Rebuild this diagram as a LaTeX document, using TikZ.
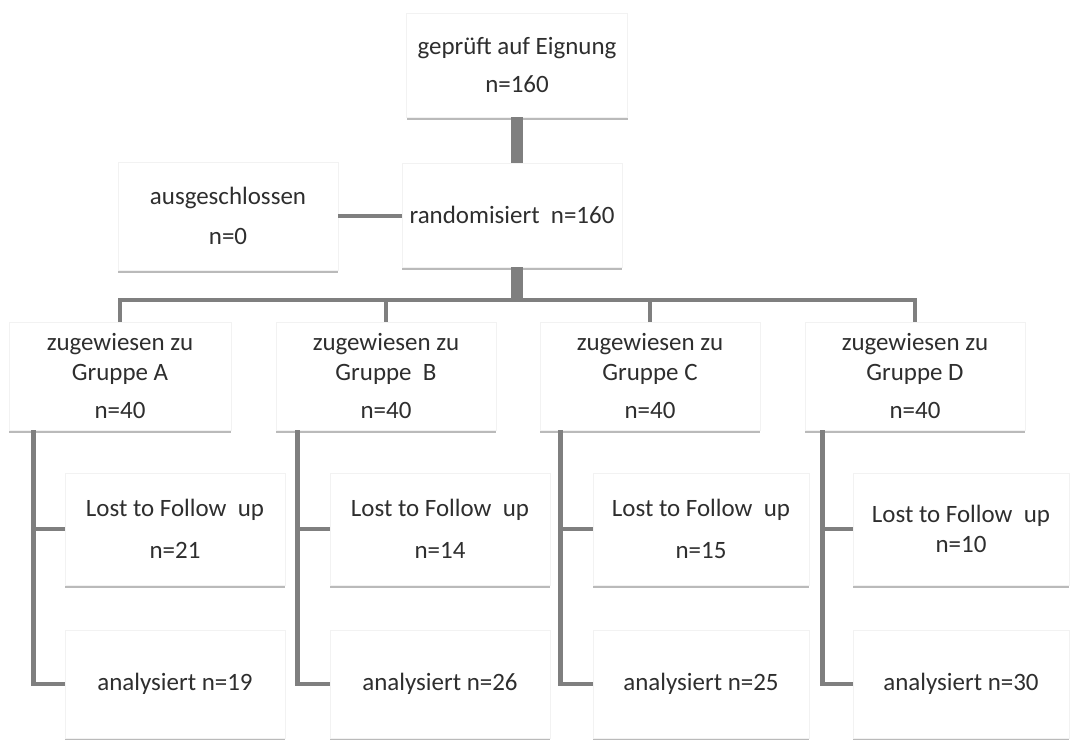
\documentclass[tikz,border=0pt]{standalone}
\usepackage{fontspec}
\setmainfont{Carlito}
\usepackage{tikz}
\usetikzlibrary{positioning, shadows}

\definecolor{linegray}{HTML}{7F7F7F}
\definecolor{textgray}{HTML}{2E2E2E}

\begin{document}
\begin{tikzpicture}[x=0.02cm, y=-0.02cm,
    box/.style={draw=black!5, fill=white, align=center, inner sep=0pt,
      text=textgray, font=\fontsize{14.2}{17}\selectfont,
      drop shadow={shadow xshift=0pt, shadow yshift=-1.6pt, fill=black!45, opacity=0.6}},
    link/.style={draw=linegray, line width=2.7pt},
    trunk/.style={draw=linegray, line width=7pt}]
    \useasboundingbox (0,0) rectangle (1075,740);

    % Screening and randomisation
    \node[box, minimum width=221*0.02cm, minimum height=104*0.02cm] (pruef) at (517,65)
      {gepr\"uft auf Eignung\\[4.5pt]n=160};
    \node[box, minimum width=220*0.02cm, minimum height=104*0.02cm] (rand) at (512,215)
      {randomisiert\ \ n=160};
    \node[box, minimum width=220*0.02cm, minimum height=108*0.02cm] (aus) at (228,216)
      {ausgeschlossen\\[5.5pt]n=0};

    % Groups
    \node[box, minimum width=222*0.02cm, minimum height=108*0.02cm] (gA) at (120,376)
      {zugewiesen zu\\Gruppe A\\[4.5pt]n=40};
    \node[box, minimum width=220*0.02cm, minimum height=108*0.02cm] (gB) at (386,376)
      {zugewiesen zu\\Gruppe\ \ B\\[4.5pt]n=40};
    \node[box, minimum width=220*0.02cm, minimum height=108*0.02cm] (gC) at (650,376)
      {zugewiesen zu\\Gruppe C\\[4.5pt]n=40};
    \node[box, minimum width=220*0.02cm, minimum height=108*0.02cm] (gD) at (915,376)
      {zugewiesen zu\\Gruppe D\\[4.5pt]n=40};

    % Lost to follow up
    \node[box, minimum width=220*0.02cm, minimum height=112*0.02cm] (lA) at (175,529)
      {Lost to Follow\ \ up\\[7pt]n=21};
    \node[box, minimum width=220*0.02cm, minimum height=112*0.02cm] (lB) at (440,529)
      {Lost to Follow\ \ up\\[7pt]n=14};
    \node[box, minimum width=216*0.02cm, minimum height=112*0.02cm] (lC) at (701,529)
      {Lost to Follow\ \ up\\[7pt]n=15};
    \node[box, minimum width=216*0.02cm, minimum height=112*0.02cm] (lD) at (961,529)
      {Lost to Follow\ \ up\\n=10};

    % Analysed
    \node[box, minimum width=220*0.02cm, minimum height=108*0.02cm] (nA) at (175,684)
      {analysiert n=19};
    \node[box, minimum width=220*0.02cm, minimum height=108*0.02cm] (nB) at (440,684)
      {analysiert n=26};
    \node[box, minimum width=216*0.02cm, minimum height=108*0.02cm] (nC) at (701,684)
      {analysiert n=25};
    \node[box, minimum width=216*0.02cm, minimum height=108*0.02cm] (nD) at (961,684)
      {analysiert n=30};

    % Top connectors
    \draw[trunk] (pruef.south) -- (pruef.south |- rand.north);
    \draw[link] (aus.east) -- (aus.east -| rand.west);
    \coordinate (bus) at (517,300);
    \draw[trunk] (rand.south -| bus) -- (bus);

    % Bus to the groups
    \draw[link] (gA.north) |- (bus) -| (gD.north);
    \draw[link] (gB.north) -- (gB.north |- bus);
    \draw[link] (gC.north) -- (gC.north |- bus);

    % Group branches
    \draw[link] (gA.south west) ++(25,0) coordinate (a0) |- (lA.west);
    \draw[link] (a0) |- (nA.west);
    \draw[link] (gB.south west) ++(22,0) coordinate (b0) |- (lB.west);
    \draw[link] (b0) |- (nB.west);
    \draw[link] (gC.south west) ++(21,0) coordinate (c0) |- (lC.west);
    \draw[link] (c0) |- (nC.west);
    \draw[link] (gD.south west) ++(18,0) coordinate (d0) |- (lD.west);
    \draw[link] (d0) |- (nD.west);
  \end{tikzpicture}
\end{document}
